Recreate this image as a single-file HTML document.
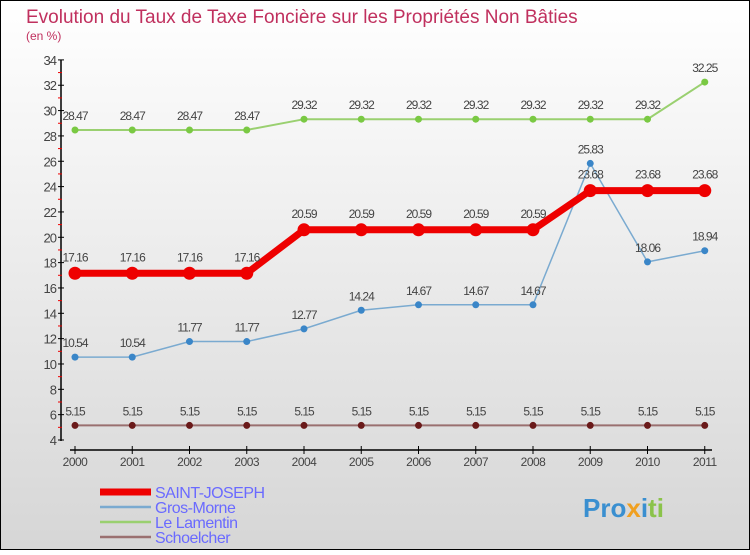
<!DOCTYPE html>
<html><head><meta charset="utf-8"><style>
html,body{margin:0;padding:0;}
body{width:750px;height:550px;overflow:hidden;font-family:"Liberation Sans",sans-serif;}
</style></head><body>
<svg id="c" width="750" height="550" xmlns="http://www.w3.org/2000/svg">
<defs><linearGradient id="bg" x1="0" y1="0" x2="0" y2="1"><stop offset="0" stop-color="#ffffff"/><stop offset="1" stop-color="#d6d6d6"/></linearGradient></defs>
<rect x="0.5" y="0.5" width="749" height="549" fill="url(#bg)" stroke="#000"/>
<text x="26" y="23" font-size="19" fill="#c0305e">Evolution du Taux de Taxe Foncière sur les Propriétés Non Bâties</text>
<text x="26" y="40" font-size="12" fill="#c0305e">(en %)</text>
<g id="axes"></g>
<g id="series"></g>
<g id="legend"></g>
<text x="583" y="517" font-size="26" font-weight="bold"><tspan fill="#3a8fd0">Pro</tspan><tspan fill="#f0a020">x</tspan><tspan fill="#3a8fd0">i</tspan><tspan fill="#8bc34a">ti</tspan></text>
</svg>
<script>
const years=["2000","2001","2002","2003","2004","2005","2006","2007","2008","2009","2010","2011"];
const yTicks=[4,6,8,10,12,14,16,18,20,22,24,26,28,30,32,34];
const saintJoseph=[17.16,17.16,17.16,17.16,20.59,20.59,20.59,20.59,20.59,23.68,23.68,23.68];
const grosMorne=[10.54,10.54,11.77,11.77,12.77,14.24,14.67,14.67,14.67,25.83,18.06,18.94];
const leLamentin=[28.47,28.47,28.47,28.47,29.32,29.32,29.32,29.32,29.32,29.32,29.32,32.25];
const schoelcher=[5.15,5.15,5.15,5.15,5.15,5.15,5.15,5.15,5.15,5.15,5.15,5.15];
const NS="http://www.w3.org/2000/svg";
const X=i=>75+i*57.25;
const Y=v=>440-(v-4)*12.67;
function mk(tag,attrs,parent,txt){const e=document.createElementNS(NS,tag);for(const k in attrs)e.setAttribute(k,attrs[k]);if(txt!==undefined)e.textContent=txt;parent.appendChild(e);return e;}
const ax=document.getElementById('axes');
let a=mk('line',{x1:61,y1:Y(34),x2:61,y2:441,stroke:'#000','stroke-width':1.5},ax);


a=mk('line',{x1:70,y1:450,x2:712,y2:450,stroke:'#000','stroke-width':1.5},ax);


yTicks.forEach(v=>{
  const t=mk('line',{x1:58,y1:Y(v),x2:64,y2:Y(v),stroke:'#000'},ax);
  
  
  if(v<34){const r=mk('line',{x1:58,y1:Y(v+1),x2:62,y2:Y(v+1),stroke:'#e00'},ax);
  
  }
  const l=mk('text',{x:56,y:Y(v)+5,'font-size':13,fill:'#444','text-anchor':'end','letter-spacing':'-1'},ax,String(v));
  
  
});
years.forEach((y,i)=>{
  const t=mk('line',{x1:X(i),y1:446,x2:X(i),y2:454,stroke:'#000'},ax);
  
  
  const l=mk('text',{x:X(i),y:466,'font-size':12,fill:'#444','text-anchor':'middle','letter-spacing':'-0.5'},ax,y);
  
  
});
const sg=document.getElementById('series');
const series=[
 {name:'schoelcher',data:schoelcher,color:'#9a7070',dot:'#6a1a1a',w:2,r:3.5,off:-10},
 {name:'le-lamentin',data:leLamentin,color:'#9ad070',dot:'#7ac943',w:2,r:3.5,off:-10},
 {name:'gros-morne',data:grosMorne,color:'#7aaad0',dot:'#3a86c8',w:1.5,r:3.5,off:-10},
 {name:'saint-joseph',data:saintJoseph,color:'#ee0000',dot:'#ee0000',w:7,r:6.5,off:-12}
];
series.forEach(s=>{
  const g=mk('g',{},sg);
  
  
  const p=mk('polyline',{points:s.data.map((v,i)=>X(i)+','+Y(v)).join(' '),fill:'none',stroke:s.color,'stroke-width':s.w},g);
  
  
  s.data.forEach((v,i)=>{
    const c=mk('circle',{cx:X(i),cy:Y(v),r:s.r,fill:s.dot},g);
    
    
    const t=mk('text',{x:X(i),y:Y(v)+s.off,'font-size':12,fill:'#444','text-anchor':'middle','letter-spacing':'-1'},g,v.toFixed(2));
    
    
  });
});
const lg=document.getElementById('legend');
const leg=[['SAINT-JOSEPH','#ee0000',7],['Gros-Morne','#7aaad0',2.5],['Le Lamentin','#9ad070',2.5],['Schoelcher','#9a7070',2.5]];
leg.forEach((e,i)=>{
  const y=492+i*15;
  const g=mk('g',{},lg);
  
  
  const l=mk('line',{x1:100,y1:y,x2:151,y2:y,stroke:e[1],'stroke-width':e[2]},g);
  
  
  const t=mk('text',{x:155,y:y+6,'font-size':16,fill:'#6a6aff','letter-spacing':'-0.5'},g,e[0]);
  
  
});
</script>
</body></html>
